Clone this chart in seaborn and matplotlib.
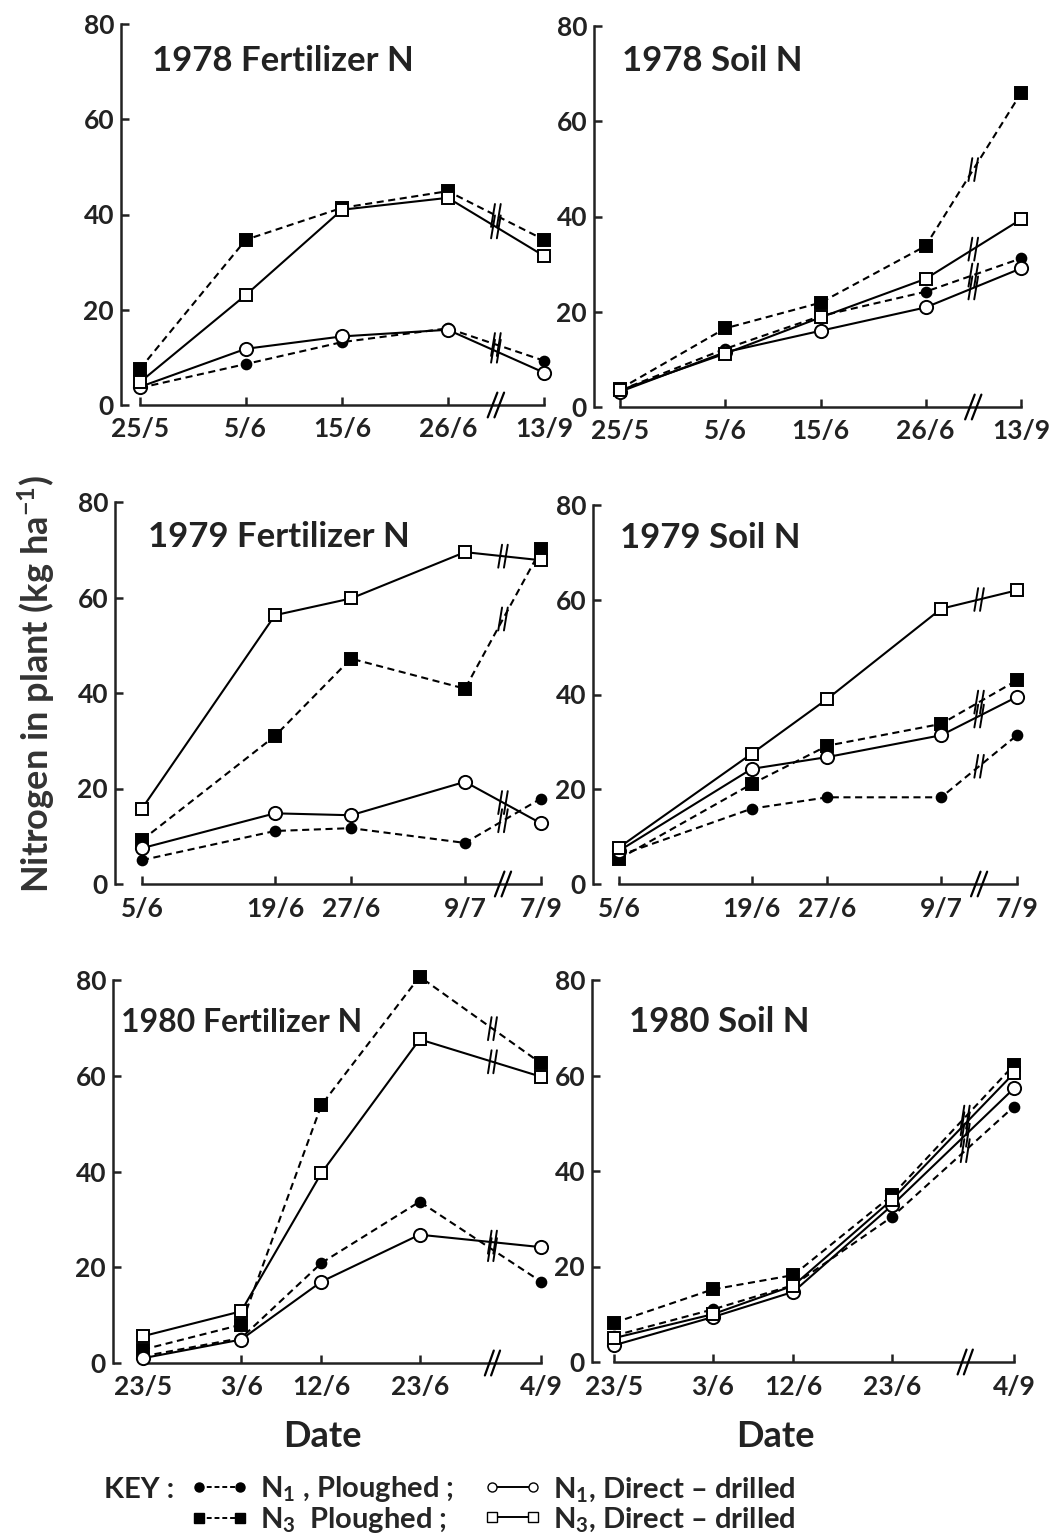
import numpy as np
import pandas as pd
import matplotlib
matplotlib.use('Agg')
import matplotlib.pyplot as plt
from matplotlib.lines import Line2D
import seaborn as sns

sns.set_style('ticks')
plt.rcParams['font.family'] = ['Lato', 'DejaVu Sans']
plt.rcParams['font.weight'] = 'bold'
plt.rcParams['mathtext.fontset'] = 'custom'
plt.rcParams['mathtext.rm'] = 'Lato:bold'
plt.rcParams['mathtext.default'] = 'regular'

"""
Data read off the figure: N in plant (kg/ha), 4 treatments, 3 years, fertilizer vs soil N
"""
dates_1978 = ['25/5', '5/6', '15/6', '26/6', '13/9']
dates_1979 = ['5/6', '19/6', '27/6', '9/7', '7/9']
dates_1980 = ['23/5', '3/6', '12/6', '23/6', '4/9']

# 1978 fertilizer N
fert78_n1_pl = [3.6, 8.6, 13.2, 16.1, 9.3]
fert78_n1_dd = [3.8, 11.8, 14.4, 15.8, 6.8]
fert78_n3_pl = [7.6, 34.7, 41.4, 44.9, 34.7]
fert78_n3_dd = [4.8, 23.1, 41.0, 43.5, 31.3]
# 1978 soil N
soil78_n1_pl = [3.5, 12.2, 19.1, 24.2, 31.2]
soil78_n1_dd = [3.2, 11.5, 16.0, 20.9, 29.1]
soil78_n3_pl = [3.8, 16.5, 21.9, 33.8, 65.9]
soil78_n3_dd = [3.5, 11.2, 18.8, 26.9, 39.4]
# 1979 fertilizer N
fert79_n1_pl = [5.0, 11.1, 11.7, 8.6, 17.9]
fert79_n1_dd = [7.5, 14.8, 14.4, 21.4, 12.7]
fert79_n3_pl = [9.2, 31.0, 47.2, 40.9, 70.1]
fert79_n3_dd = [15.8, 56.3, 59.8, 69.5, 67.8]
# 1979 soil N
soil79_n1_pl = [6.0, 15.9, 18.3, 18.3, 31.4]
soil79_n1_dd = [7.0, 24.3, 26.8, 31.4, 39.5]
soil79_n3_pl = [5.3, 21.1, 29.2, 33.8, 43.0]
soil79_n3_dd = [7.7, 27.5, 39.1, 58.1, 62.0]
# 1980 fertilizer N
fert80_n1_pl = [1.4, 5.2, 20.9, 33.7, 17.0]
fert80_n1_dd = [1.0, 4.9, 17.0, 26.8, 24.2]
fert80_n3_pl = [2.8, 8.0, 53.9, 80.7, 62.6]
fert80_n3_dd = [5.6, 10.8, 39.7, 67.6, 59.8]
# 1980 soil N
soil80_n1_pl = [5.5, 11.0, 16.1, 30.4, 53.5]
soil80_n1_dd = [3.5, 9.4, 14.7, 32.8, 57.3]
soil80_n3_pl = [8.2, 15.2, 18.2, 34.9, 62.2]
soil80_n3_dd = [5.0, 10.0, 16.0, 34.0, 60.5]

series_names = ['n1_pl', 'n3_pl', 'n1_dd', 'n3_dd']

dash = (0, (3.4, 2.2))
styles = {
    'n1_pl': dict(marker='o', markersize=7, markerfacecolor='k', linestyle=dash, zorder=3),
    'n3_pl': dict(marker='s', markersize=8.5, markerfacecolor='k', linestyle=dash, zorder=3),
    'n1_dd': dict(marker='o', markersize=9.5, markerfacecolor='white', linestyle='-', zorder=4),
    'n3_dd': dict(marker='s', markersize=9, markerfacecolor='white', linestyle='-', zorder=4),
}


def day_positions(dates, year, gap):
    # real day spacing before the axis break, compressed gap after it
    d = pd.to_datetime([s + '/' + str(year) for s in dates], format='%d/%m/%Y')
    days = np.asarray((d - d[0]).days, dtype=float)
    days[-1] = days[-2] + gap
    return days


years = {
    1978: dict(dates=dates_1978, gap=10.0, brk=0.5),
    1979: dict(dates=dates_1979, gap=8.0, brk=0.5),
    1980: dict(dates=dates_1980, gap=13.6, brk=0.6),
}

panel_data = {
    (1978, 'Fertilizer'): [fert78_n1_pl, fert78_n3_pl, fert78_n1_dd, fert78_n3_dd],
    (1978, 'Soil'): [soil78_n1_pl, soil78_n3_pl, soil78_n1_dd, soil78_n3_dd],
    (1979, 'Fertilizer'): [fert79_n1_pl, fert79_n3_pl, fert79_n1_dd, fert79_n3_dd],
    (1979, 'Soil'): [soil79_n1_pl, soil79_n3_pl, soil79_n1_dd, soil79_n3_dd],
    (1980, 'Fertilizer'): [fert80_n1_pl, fert80_n3_pl, fert80_n1_dd, fert80_n3_dd],
    (1980, 'Soil'): [soil80_n1_pl, soil80_n3_pl, soil80_n1_dd, soil80_n3_dd],
}

# pixel layout: y-spine x, first tick x, last tick x, y of 0, y of 80, title left, title baseline, title size
layout = {
    (1978, 'Fertilizer'): (121, 140, 544, 405, 24, 152, 71, 25),
    (1978, 'Soil'): (594, 620, 1021, 407, 26, 622, 71, 25),
    (1979, 'Fertilizer'): (115, 142, 541, 884, 502, 148, 547, 25),
    (1979, 'Soil'): (593, 619, 1017, 884, 505, 620, 548, 25),
    (1980, 'Fertilizer'): (113, 143, 541, 1363, 980, 121, 1032, 23),
    (1980, 'Soil'): (592, 614, 1014, 1362, 980, 629, 1032, 25),
}

W, H = 1057, 1538
fig = plt.figure(figsize=(W / 100, H / 100), dpi=100)

for (year, kind), values in panel_data.items():
    px_axis, px_first, px_last, py0, py80, tx, ty, tsize = layout[(year, kind)]
    info = years[year]
    pos = day_positions(info['dates'], year, info['gap'])
    k = (px_last - px_first) / (pos[-1] - pos[0])

    ax = fig.add_axes([px_axis / W, 1 - py0 / H, (px_last + 12 - px_axis) / W, (py0 - py80) / H])

    df = pd.DataFrame({'pos': np.tile(pos, 4),
                       'value': np.concatenate(values),
                       'series': np.repeat(series_names, len(pos))})

    xb = pos[-2] + info['brk'] * (pos[-1] - pos[-2])
    for name in series_names:
        sub = df[df.series == name]
        sns.lineplot(data=sub, x='pos', y='value', ax=ax, color='k', linewidth=1.5,
                     markeredgecolor='k', markeredgewidth=1.4, clip_on=False,
                     errorbar=None, sort=False, **styles[name])
        # break marks on each line
        yb = np.interp(xb, sub.pos, sub.value)
        for off in (-0.3, 0.3):
            ax.plot([xb + off - 0.2, xb + off + 0.2], [yb - 2.4, yb + 2.4], color='k', lw=1.4,
                    clip_on=False, zorder=5)

    # break on the x axis
    for off in (-0.35, 0.35):
        ax.plot([xb + off - 0.5, xb + off + 0.5], [-2.6, 2.6], color='k', lw=1.6,
                clip_on=False, zorder=6)

    ax.set_xlim(pos[0] - (px_first - px_axis) / k, pos[-1] + 12 / k)
    ax.set_ylim(0, 80)
    ax.set_xticks(pos)
    ax.set_xticklabels(info['dates'])
    ax.set_yticks([0, 20, 40, 60, 80])
    ax.set_xlabel('')
    ax.set_ylabel('')
    ax.tick_params(axis='both', direction='in', length=6, width=1.8, labelsize=19, colors='#222222')
    ax.tick_params(axis='x', pad=9)
    ax.tick_params(axis='y', pad=5)
    sns.despine(ax=ax)
    ax.spines['left'].set_bounds(0, 80)
    ax.spines['bottom'].set_bounds(pos[0], pos[-1])
    plt.setp(ax.spines.values(), linewidth=1.8, color='#222222')
    ax.patch.set_alpha(0)

    fig.text(tx / W, 1 - ty / H, f'{year} {kind} N', fontsize=tsize, fontweight='bold',
             color='#222222', va='baseline', ha='left')

fig.text(36 / W, 1 - 684 / H, r'Nitrogen in plant (kg ha$^{-1}$)', rotation=90, fontsize=26,
         fontweight='bold', color='#333333', ha='center', va='center')
fig.text(322 / W, 1 - 1447 / H, 'Date', fontsize=26, fontweight='bold', color='#222222',
         ha='center', va='baseline')
fig.text(775 / W, 1 - 1447 / H, 'Date', fontsize=26, fontweight='bold', color='#222222',
         ha='center', va='baseline')

# key
fig.text(104 / W, 1 - 1498 / H, 'KEY :', fontsize=21, fontweight='bold', color='#222222',
         ha='left', va='baseline')
key_handles = [
    Line2D([], [], color='k', lw=1.4, linestyle=(0, (2.5, 1.5)), marker='o', markersize=6.5,
           markerfacecolor='k', markeredgecolor='k'),
    Line2D([], [], color='k', lw=1.4, linestyle=(0, (2.5, 1.5)), marker='s', markersize=6.5,
           markerfacecolor='k', markeredgecolor='k'),
    Line2D([], [], color='k', lw=1.4, linestyle='-', marker='o', markersize=6.5,
           markerfacecolor='white', markeredgecolor='k'),
    Line2D([], [], color='k', lw=1.4, linestyle='-', marker='s', markersize=6.5,
           markerfacecolor='white', markeredgecolor='k'),
]
key_labels = [r'$N_1$ , Ploughed ;', r'$N_3$  Ploughed ;',
              r'$N_1$, Direct – drilled', r'$N_3$, Direct – drilled']
fig.legend(key_handles, key_labels, ncol=2, loc='upper left',
           bbox_to_anchor=(190 / W, 1 - 1474 / H), frameon=False, numpoints=2,
           handlelength=2.0, handletextpad=0.4, columnspacing=1.0, labelspacing=0.05,
           borderpad=0, borderaxespad=0,
           prop={'size': 21, 'weight': 'bold'})

plt.savefig('out.png', dpi=100, facecolor='white')
